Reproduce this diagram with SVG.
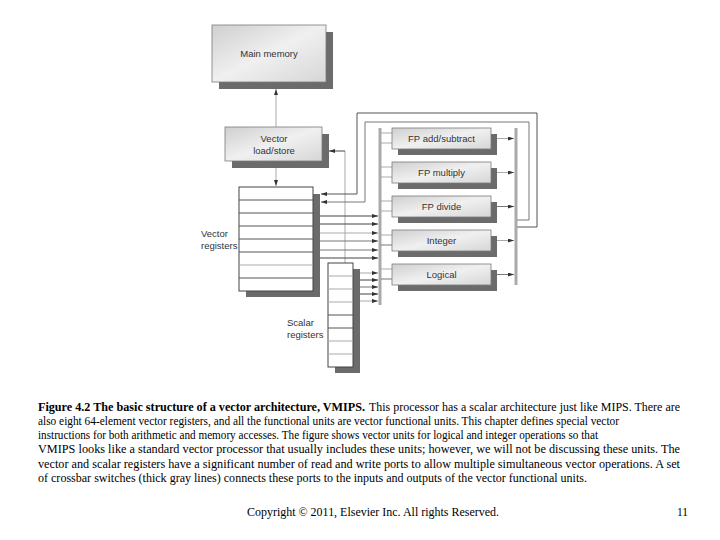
<svg xmlns="http://www.w3.org/2000/svg" width="720" height="540" viewBox="0 0 720 540">
<defs>
<linearGradient id="boxg" x1="0" y1="0" x2="1" y2="1">
<stop offset="0" stop-color="#cfcfcf"/>
<stop offset="0.5" stop-color="#f0f0f0"/>
<stop offset="1" stop-color="#d6d6d6"/>
</linearGradient>
<marker id="ah" viewBox="0 0 6 4" refX="6" refY="2" markerWidth="6" markerHeight="4" markerUnits="userSpaceOnUse" orient="auto">
<path d="M0,0 L6,2 L0,4 z" fill="#333"/>
</marker>
</defs>
<style>
.box{fill:url(#boxg);stroke:#7a7a7a;stroke-width:0.8}
.sh{fill:#6b6b6b}
.reg{fill:#fff;stroke:#444;stroke-width:1}
.row{stroke:#555;stroke-width:1}
.rowl{stroke:#aaa;stroke-width:1}
.lbl{font-family:"Liberation Sans",Arial,sans-serif;font-size:9.5px;fill:#333;text-anchor:middle}
.lbll{font-family:"Liberation Sans",Arial,sans-serif;font-size:9.5px;fill:#333}
.cap{font-family:"Liberation Serif","Times New Roman",serif;font-size:11.5px;fill:#000}
.bar{stroke:#aaa;stroke-width:3;fill:none}
.ln{fill:none;stroke-width:1}
.dk{stroke:#444}
.md{stroke:#777}
.lt{stroke:#aaa}
.arr{marker-end:url(#ah)}
</style>

<g id="connectors">
<!-- load/store to main memory, load/store to vector regs -->
<line class="ln lt arr" x1="276" y1="127" x2="276" y2="89"/>
<line class="ln lt arr" x1="276" y1="161" x2="276" y2="186"/>
<!-- scalar regs to load/store -->
<line class="ln lt" x1="345" y1="263" x2="345" y2="151"/>
<line class="ln dk arr" x1="345" y1="151" x2="329" y2="151"/>
<!-- feedback loops -->
<polyline class="ln arr" stroke="#555" stroke-width="1.2" points="516,227 537,227 537,113 357,113 357,194 321,194"/>
<polyline class="ln arr" stroke="#777" stroke-width="1.2" points="516,220 529,220 529,122 365,122 365,202 321,202"/>
<!-- crossbars -->
<line class="bar" x1="380" y1="128" x2="380" y2="305"/>
<line class="bar" x1="516" y1="128" x2="516" y2="285"/>
<!-- vector register outputs -->
<line class="ln dk arr" x1="320" y1="216" x2="378" y2="216"/>
<line class="ln dk arr" x1="320" y1="224" x2="378" y2="224"/>
<line class="ln lt arr" x1="320" y1="233" x2="378" y2="233"/>
<line class="ln md arr" x1="320" y1="241" x2="378" y2="241"/>
<line class="ln arr" stroke="#777" stroke-width="2" x1="320" y1="250" x2="378" y2="250"/>
<line class="ln dk arr" x1="320" y1="258" x2="378" y2="258"/>
<!-- scalar register outputs -->
<line class="ln lt arr" x1="360" y1="273" x2="378" y2="273"/>
<line class="ln dk arr" x1="360" y1="280" x2="378" y2="280"/>
<line class="ln md arr" x1="360" y1="287" x2="378" y2="287"/>
<line class="ln dk arr" x1="360" y1="294" x2="378" y2="294"/>
<line class="ln lt arr" x1="360" y1="301" x2="378" y2="301"/>
<!-- unit inputs -->
<line class="ln lt" x1="381" y1="133" x2="392" y2="133"/>
<line class="ln lt" x1="381" y1="143" x2="392" y2="143"/>
<line class="ln lt" x1="381" y1="167" x2="392" y2="167"/>
<line class="ln lt" x1="381" y1="177" x2="392" y2="177"/>
<line class="ln lt" x1="381" y1="201" x2="392" y2="201"/>
<line class="ln lt" x1="381" y1="211" x2="392" y2="211"/>
<line class="ln lt" x1="381" y1="235" x2="392" y2="235"/>
<line class="ln md" x1="381" y1="245" x2="392" y2="245"/>
<line class="ln lt" x1="381" y1="269" x2="392" y2="269"/>
<line class="ln md" x1="381" y1="279" x2="392" y2="279"/>
<!-- unit outputs -->
<line class="ln lt arr" x1="497" y1="138.5" x2="514" y2="138.5"/>
<line class="ln lt arr" x1="497" y1="172.5" x2="514" y2="172.5"/>
<line class="ln md arr" x1="497" y1="206.5" x2="514" y2="206.5"/>
<line class="ln lt arr" x1="497" y1="240.5" x2="514" y2="240.5"/>
<line class="ln md arr" x1="497" y1="274.5" x2="514" y2="274.5"/>
</g>

<g id="main-memory">
<rect class="sh" x="219" y="32" width="114" height="57"/>
<rect class="box" x="212" y="25" width="114" height="57"/>
<text class="lbl" x="269" y="57">Main memory</text>
</g>

<g id="vector-load-store">
<rect class="sh" x="232" y="134" width="97" height="34"/>
<rect class="box" x="225" y="127" width="97" height="34"/>
<text class="lbl" x="274" y="141.5">Vector</text>
<text class="lbl" x="274" y="154">load/store</text>
</g>

<g id="vector-registers">
<rect class="sh" x="246" y="194" width="74" height="103"/>
<rect class="reg" x="239" y="187" width="74" height="104"/>
<line class="row" x1="239" y1="200" x2="313" y2="200"/>
<line class="row" x1="239" y1="213" x2="313" y2="213"/>
<line class="row" x1="239" y1="226" x2="313" y2="226"/>
<line class="row" x1="239" y1="239" x2="313" y2="239"/>
<line class="row" x1="239" y1="252" x2="313" y2="252"/>
<line class="rowl" x1="239" y1="265" x2="313" y2="265"/>
<line class="row" x1="239" y1="278" x2="313" y2="278"/>
<text class="lbll" x="201" y="237">Vector</text>
<text class="lbll" x="201" y="249">registers</text>
</g>

<g id="scalar-registers">
<rect class="sh" x="335" y="269" width="25" height="104"/>
<rect class="reg" x="328" y="263" width="25" height="104"/>
<line class="rowl" x1="328" y1="276" x2="353" y2="276"/>
<line class="rowl" x1="328" y1="289" x2="353" y2="289"/>
<line class="rowl" x1="328" y1="302" x2="353" y2="302"/>
<line class="row" x1="328" y1="315" x2="353" y2="315"/>
<line class="row" x1="328" y1="328" x2="353" y2="328"/>
<line class="rowl" x1="328" y1="341" x2="353" y2="341"/>
<line class="rowl" x1="328" y1="354" x2="353" y2="354"/>
<text class="lbll" x="287" y="326">Scalar</text>
<text class="lbll" x="287" y="338">registers</text>
</g>

<g id="fp-add">
<rect class="sh" x="398" y="134" width="99" height="21"/>
<rect class="box" x="392" y="128" width="99" height="21"/>
<text class="lbl" x="441.5" y="141.8">FP add/subtract</text>
</g>
<g id="fp-multiply">
<rect class="sh" x="398" y="168" width="99" height="21"/>
<rect class="box" x="392" y="162" width="99" height="21"/>
<text class="lbl" x="441.5" y="175.8">FP multiply</text>
</g>
<g id="fp-divide">
<rect class="sh" x="398" y="202" width="99" height="21"/>
<rect class="box" x="392" y="196" width="99" height="21"/>
<text class="lbl" x="441.5" y="209.8">FP divide</text>
</g>
<g id="integer">
<rect class="sh" x="398" y="236" width="99" height="21"/>
<rect class="box" x="392" y="230" width="99" height="21"/>
<text class="lbl" x="441.5" y="243.8">Integer</text>
</g>
<g id="logical">
<rect class="sh" x="398" y="270" width="99" height="21"/>
<rect class="box" x="392" y="264" width="99" height="21"/>
<text class="lbl" x="441.5" y="277.8">Logical</text>
</g>

<g id="caption">
<text class="cap" x="38" y="410.5" font-weight="bold" textLength="327" lengthAdjust="spacingAndGlyphs">Figure 4.2 The basic structure of a vector architecture, VMIPS.</text>
<text class="cap" x="369" y="410.5" textLength="311" lengthAdjust="spacingAndGlyphs">This processor has a scalar architecture just like MIPS. There are</text>
<text class="cap" x="38" y="424.8" textLength="581" lengthAdjust="spacingAndGlyphs">also eight 64-element vector registers, and all the functional units are vector functional units. This chapter defines special vector</text>
<text class="cap" x="38" y="439.1" textLength="560" lengthAdjust="spacingAndGlyphs">instructions for both arithmetic and memory accesses. The figure shows vector units for logical and integer operations so that</text>
<text class="cap" x="38" y="453.4" textLength="642" lengthAdjust="spacingAndGlyphs">VMIPS looks like a standard vector processor that usually includes these units; however, we will not be discussing these units. The</text>
<text class="cap" x="38" y="467.7" textLength="642" lengthAdjust="spacingAndGlyphs">vector and scalar registers have a significant number of read and write ports to allow multiple simultaneous vector operations. A set</text>
<text class="cap" x="38" y="482" textLength="549" lengthAdjust="spacingAndGlyphs">of crossbar switches (thick gray lines) connects these ports to the inputs and outputs of the vector functional units.</text>
</g>

<g id="footer">
<text class="cap" x="247" y="516" textLength="252" lengthAdjust="spacingAndGlyphs">Copyright © 2011, Elsevier Inc. All rights Reserved.</text>
<text class="cap" x="677" y="516">11</text>
</g>
</svg>
